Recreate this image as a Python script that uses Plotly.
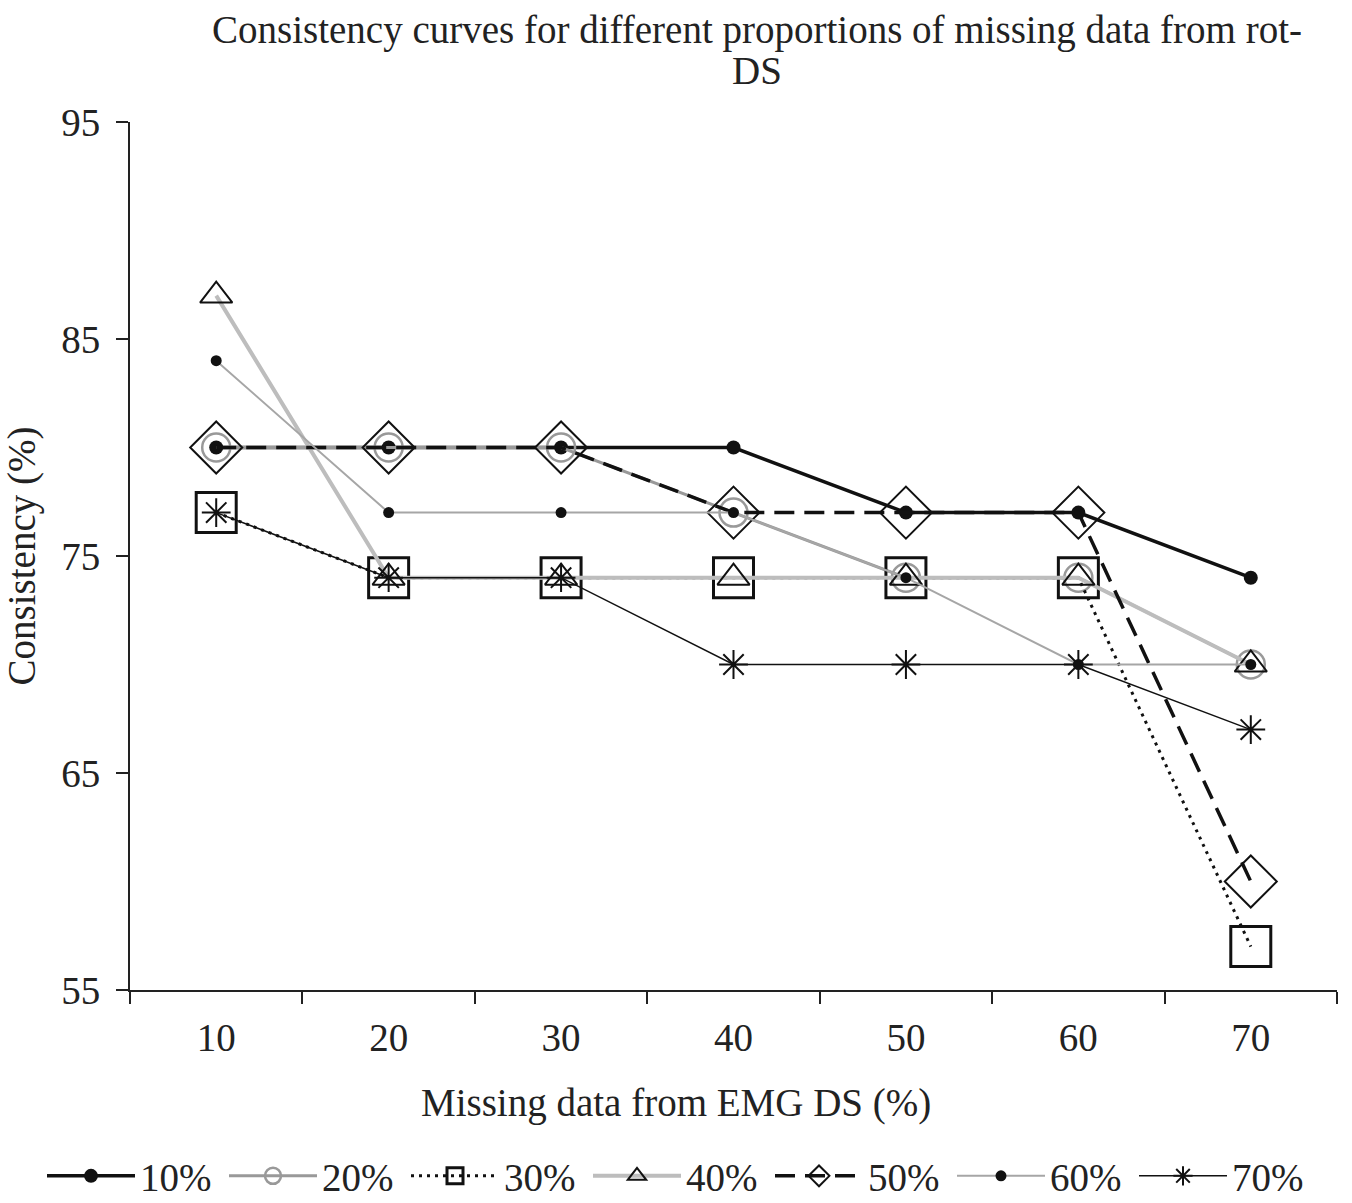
import plotly.graph_objects as go

# Missing data from EMG DS (%) on the x axis
emg_missing = [10, 20, 30, 40, 50, 60, 70]
x_tick_text = ["10", "20", "30", "40", "50", "60", "70"]
x_boundaries = [5, 15, 25, 35, 45, 55, 65, 75]
y_ticks = [55, 65, 75, 85, 95]

# Consistency (%) per proportion of missing data from rot-DS
rot_10 = [80, 80, 80, 80, 77, 77, 74]
rot_20 = [80, 80, 80, 77, 74, 74, 70]
rot_30 = [77, 74, 74, 74, 74, 74, 57]
rot_40 = [87, 74, 74, 74, 74, 74, 70]
rot_50 = [80, 80, 80, 77, 77, 77, 60]
rot_60 = [84, 77, 77, 77, 74, 70, 70]
rot_70 = [77, 74, 74, 70, 70, 70, 67]

FONT = "Liberation Serif, Times New Roman, serif"
INK = "#222222"
FS = 39

series = [
    ("10%", rot_10, dict(color="#111111", width=3.5), dict(symbol="circle", size=14, color="#111111")),
    ("20%", rot_20, dict(color="#999999", width=3), dict(symbol="circle-open", size=28, color="#999999", line=dict(width=2.5))),
    ("30%", rot_30, dict(color="#111111", width=3, dash="3px,5px"), dict(symbol="square-open", size=40, color="#111111", line=dict(width=3))),
    ("40%", rot_40, dict(color="#bdbdbd", width=4), dict(symbol="triangle-up-open", size=28, color="#111111", line=dict(width=2))),
    ("50%", rot_50, dict(color="#111111", width=3.5, dash="20px,10px"), dict(symbol="diamond-open", size=40, color="#111111", line=dict(width=2))),
    ("60%", rot_60, dict(color="#a6a6a6", width=2), dict(symbol="circle", size=11, color="#111111")),
    ("70%", rot_70, dict(color="#111111", width=1.5), dict(symbol="asterisk-open", size=24, color="#111111", line=dict(width=2))),
]

fig = go.Figure()
for i, (name, values, line, marker) in enumerate(series):
    fig.add_trace(go.Scatter(
        x=emg_missing, y=values, name=name, mode="lines+markers",
        line=line, marker=marker,
        # the single legend row is split in two halves so it stays on one line
        legend="legend" if i < 4 else "legend2",
    ))

title_font = dict(family=FONT, size=FS, color=INK)
legend_style = dict(
    orientation="h", xref="container", yref="container",
    xanchor="left", y=1 - 1176 / 1203, yanchor="middle",
    font=dict(family=FONT, size=FS, color=INK),
    itemwidth=88, entrywidth=79, tracegroupgap=0,
)

fig.update_layout(
    width=1352, height=1203,
    margin=dict(l=130, r=15, t=122, b=213),
    paper_bgcolor="white", plot_bgcolor="white",
    font=dict(family=FONT, size=FS, color=INK),
    title=dict(
        text="Consistency curves for different proportions of missing data from rot-",
        x=757 / 1352, xanchor="center", xref="container",
        y=1 - 29 / 1203, yanchor="middle", yref="container",
        font=title_font,
    ),
    showlegend=True,
    legend=dict(x=42 / 1352, **legend_style),
    legend2=dict(x=770 / 1352, **legend_style),
    xaxis=dict(
        range=[5, 75], tickmode="array", tickvals=emg_missing, ticktext=x_tick_text,
        ticks="outside", ticklen=12, tickcolor="rgba(0,0,0,0)",
        minor=dict(tickmode="array", tickvals=x_boundaries, ticks="outside",
                   ticklen=12, tickwidth=2, tickcolor=INK),
        showline=True, linecolor=INK, linewidth=2,
        showgrid=False, zeroline=False,
    ),
    xaxis2=dict(
        overlaying="x", anchor="y", side="bottom", range=[5, 75],
        tickmode="array", tickvals=x_boundaries, ticks="inside", ticklen=12,
        tickwidth=2, tickcolor=INK, showticklabels=False,
        showline=False, showgrid=False, zeroline=False,
    ),
    yaxis=dict(
        range=[55, 95], tickmode="array", tickvals=y_ticks,
        ticks="outside", ticklen=12, tickwidth=2, tickcolor=INK,
        ticklabelstandoff=8,
        showline=True, linecolor=INK, linewidth=2,
        showgrid=False, zeroline=False,
        title=dict(text="Consistency (%)", standoff=14,
                   font=dict(family=FONT, size=FS, color=INK)),
    ),
    yaxis2=dict(
        overlaying="y", anchor="x", side="left", range=[55, 95],
        tickmode="array", tickvals=y_ticks, ticks="inside", ticklen=12,
        tickwidth=2, tickcolor=INK, showticklabels=False,
        showline=False, showgrid=False, zeroline=False,
    ),
    annotations=[
        # wrapped second line of the chart title
        dict(text="DS", xref="paper", yref="paper",
             x=(757 - 130) / 1207, y=1 + (122 - 71) / 868,
             xanchor="center", yanchor="middle", showarrow=False, font=title_font),
        dict(text="Missing data from EMG DS (%)", xref="paper", yref="paper",
             x=(676 - 130) / 1207, y=-(1103 - 990) / 868,
             xanchor="center", yanchor="middle", showarrow=False, font=title_font),
    ],
)

fig.write_html("out.html")
